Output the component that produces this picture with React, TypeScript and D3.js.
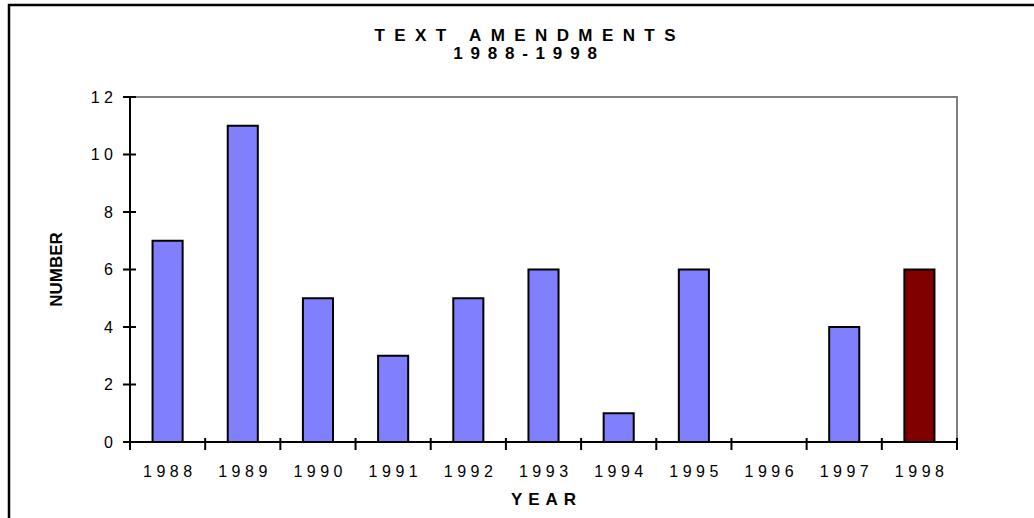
import React from "react";
import * as d3 from "d3";

const years = ["1988", "1989", "1990", "1991", "1992", "1993", "1994", "1995", "1996", "1997", "1998"];
const amendments = [7, 11, 5, 3, 5, 6, 1, 6, 0, 4, 6];
const yTicks = [0, 2, 4, 6, 8, 10, 12];
const highlightYear = "1998";

const W = 1034;
const H = 518;
const left = 130;
const right = 957;
const top = 97;
const bottom = 442;
const FONT = "Arial, 'Liberation Sans', sans-serif";

export default function App() {
  const x = d3.scaleBand<string>().domain(years).range([left, right]).paddingInner(0.6).paddingOuter(0.3);
  const y = d3.scaleLinear().domain([0, 12]).range([bottom, top]);
  const step = x.step();
  const boundaries = d3.range(years.length + 1).map((i) => left + i * step);
  const tickLs = 4.5;
  const titleLs = 9.4;
  const subLs = 7.8;
  const yearLs = 6;

  return (
    <svg width={W} height={H} style={{ position: "absolute", left: 0, top: 0, background: "#fff" }}>
      <rect x={9} y={5} width={1060} height={560} fill="#fff" stroke="#000" strokeWidth={2.5} />
      <text x={525 + titleLs / 2} y={40.5} textAnchor="middle" fontFamily={FONT} fontWeight="bold" fontSize={17} letterSpacing={titleLs}>
        TEXT AMENDMENTS
      </text>
      <text x={525 + subLs / 2} y={59} textAnchor="middle" fontFamily={FONT} fontWeight="bold" fontSize={17} letterSpacing={subLs}>
        1988-1998
      </text>
      {/* plot frame top/right */}
      <path d={`M${left},${top}H${right}V${bottom}`} fill="none" stroke="#808080" strokeWidth={2} />
      {/* bars */}
      {years.map((yr, i) => {
        const v = amendments[i];
        if (v <= 0) return null;
        return (
          <rect
            key={yr}
            x={x(yr)}
            y={y(v)}
            width={x.bandwidth()}
            height={y(0) - y(v)}
            fill={yr === highlightYear ? "#800000" : "#8080FF"}
            stroke="#000"
            strokeWidth={2}
          />
        );
      })}
      {/* y axis */}
      <line x1={left} x2={left} y1={top} y2={bottom} stroke="#000" strokeWidth={2} />
      {yTicks.map((t) => (
        <g key={t}>
          <line x1={left - 7} x2={left + 6} y1={y(t)} y2={y(t)} stroke="#000" strokeWidth={2} />
          <text
            x={113 + tickLs}
            y={y(t)}
            dy="0.36em"
            textAnchor="end"
            fontFamily={FONT}
            fontSize={16}
            letterSpacing={tickLs}
          >
            {t}
          </text>
        </g>
      ))}
      {/* x axis */}
      <line x1={left} x2={right} y1={bottom} y2={bottom} stroke="#000" strokeWidth={2} />
      {boundaries.map((bx, i) => (
        <line key={i} x1={bx} x2={bx} y1={bottom - 4} y2={bottom + 8} stroke="#000" strokeWidth={2} />
      ))}
      {years.map((yr) => (
        <text
          key={yr}
          x={(x(yr) as number) + x.bandwidth() / 2 + tickLs / 2}
          y={477}
          textAnchor="middle"
          fontFamily={FONT}
          fontSize={16}
          letterSpacing={tickLs}
        >
          {yr}
        </text>
      ))}
      <text x={(left + right) / 2 + yearLs / 2} y={505} textAnchor="middle" fontFamily={FONT} fontWeight="bold" fontSize={17} letterSpacing={yearLs}>
        YEAR
      </text>
      <text
        transform={`translate(62,${(top + bottom) / 2}) rotate(-90)`}
        textAnchor="middle"
        fontFamily={FONT}
        fontWeight="bold"
        fontSize={17}
      >
        NUMBER
      </text>
    </svg>
  );
}
